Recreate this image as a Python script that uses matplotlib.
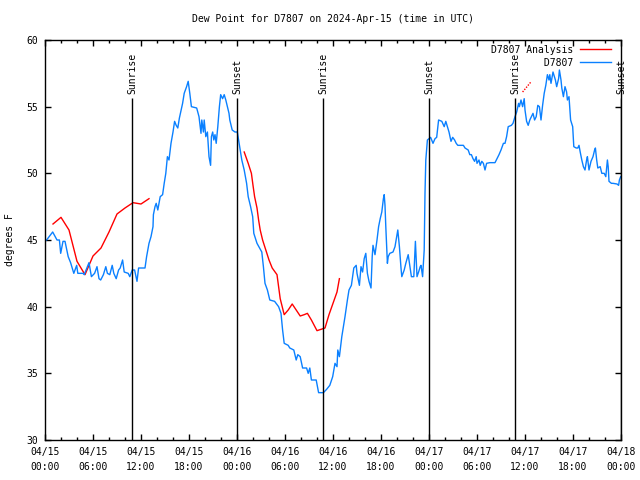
import numpy as np
import matplotlib
matplotlib.use("Agg")
import matplotlib.pyplot as plt
from matplotlib.ticker import MultipleLocator

plt.rcParams['font.family'] = 'DejaVu Sans Mono'
plt.rcParams['font.size'] = 7

# hours since 2024-04-15 00:00 UTC
obs_hours = [0.2, 0.96, 1.5, 1.8, 1.96, 2.25, 2.5, 2.9, 3.2, 3.6, 3.96, 4.1, 4.75, 4.9, 5.5, 5.8,
             6.2, 6.5, 6.75, 6.96, 7.3, 7.6, 7.8, 8.1, 8.4, 8.6, 8.9, 9.2, 9.4, 9.7, 9.9, 10.4,
             10.6, 10.9, 11.2, 11.5, 11.7, 12.5, 12.7, 13.0, 13.25, 13.5, 13.55, 13.75, 13.9, 14.1,
             14.4, 14.7, 14.9, 15.1, 15.3, 15.5, 15.75, 16.0, 16.2, 16.4, 16.6, 16.8, 17.2, 17.4,
             17.7, 17.9, 18.1, 18.3, 18.96, 19.25, 19.5, 19.6, 19.8, 19.9, 20.1, 20.3, 20.5, 20.7,
             20.8, 20.96, 21.1, 21.25, 21.4, 21.6, 21.8, 21.96, 22.2, 22.4, 22.6, 22.8, 23.0, 23.1,
             23.4, 23.75, 24.04, 24.2, 24.4, 24.6, 24.9, 25.2, 25.4, 25.7, 25.96, 26.1, 26.5, 27.1,
             27.3, 27.5, 27.8, 28.1, 28.7, 29.2, 29.5, 29.7, 29.9, 30.4, 30.6, 31.1, 31.4, 31.6,
             31.9, 32.2, 32.7, 32.9, 33.1, 33.3, 33.9, 34.2, 34.8, 35.2, 35.6, 35.96, 36.25, 36.5,
             36.6, 36.8, 37.1, 37.5, 37.8, 38.0, 38.3, 38.6, 38.9, 39.0, 39.3, 39.5, 39.7, 39.9,
             40.1, 40.3, 40.5, 40.75, 40.9, 41.0, 41.25, 41.5, 41.7, 41.9, 42.1, 42.3, 42.4, 42.5,
             42.6, 42.8, 42.9, 43.1, 43.5, 43.75, 43.96, 44.1, 44.3, 44.5, 44.6, 44.9, 45.1, 45.4,
             45.6, 45.8, 46.1, 46.3, 46.5, 46.7, 46.9, 47.0, 47.2, 47.4, 47.5, 47.6, 47.8, 48.0,
             48.2, 48.5, 48.75, 48.96, 49.2, 49.6, 49.9, 50.1, 50.3, 50.5, 50.75, 50.96, 51.2, 51.4,
             51.6, 52.3, 52.5, 52.9, 53.1, 53.3, 53.5, 53.7, 53.9, 54.0, 54.25, 54.4, 54.6, 54.8,
             55.0, 55.2, 55.6, 56.25, 56.5, 56.75, 57.0, 57.3, 57.5, 57.7, 57.9, 58.3, 58.5, 58.75,
             58.96, 59.2, 59.3, 59.5, 59.7, 59.9, 60.0, 60.2, 60.4, 60.6, 60.8, 61.0, 61.2, 61.4,
             61.6, 61.8, 62.0, 62.2, 62.4, 62.6, 62.8, 63.0, 63.1, 63.25, 63.5, 63.6, 63.8, 63.96,
             64.2, 64.3, 64.5, 64.6, 64.8, 65.0, 65.2, 65.3, 65.5, 65.7, 65.96, 66.1, 66.4, 66.6,
             66.75, 66.9, 67.1, 67.3, 67.5, 67.7, 67.8, 68.0, 68.25, 68.5, 68.7, 68.8, 68.96, 69.1,
             69.4, 69.6, 69.9, 70.1, 70.3, 70.4, 70.5, 70.8, 71.0, 71.5, 71.7, 71.8, 71.96]
obs_dewpt = [45.0, 45.6, 45.0, 45.0, 44.0, 44.9, 44.9, 43.75, 43.3, 42.5, 43.1, 42.5, 42.5, 42.4, 43.3, 42.25,
             42.5, 43.0, 42.1, 42.0, 42.4, 43.0, 42.5, 42.4, 43.1, 42.5, 42.1, 42.75, 42.9, 43.5, 42.6, 42.5,
             42.25, 42.75, 42.75, 41.9, 42.9, 42.9, 43.75, 44.75, 45.25, 46.0, 46.9, 47.5, 47.75, 47.25,
             48.25, 48.4, 49.25, 50.0, 51.25, 51.0, 52.25, 53.1, 53.9, 53.6, 53.4, 54.15, 55.25, 56.0,
             56.5, 56.9, 56.0, 55.0, 54.9, 54.25, 53.0, 54.0, 53.1, 54.0, 52.75, 53.1, 51.25, 50.6,
             52.75, 53.1, 52.5, 52.9, 52.25, 53.5, 55.0, 55.9, 55.6, 55.9, 55.5, 55.0, 54.5, 54.0,
             53.25, 53.1, 53.1, 52.5, 51.75, 51.0, 50.25, 49.25, 48.25, 47.5, 46.75, 45.5, 44.75, 44.1,
             43.0, 41.75, 41.25, 40.5, 40.4, 40.0, 39.5, 38.25, 37.25, 37.1, 36.9, 36.75, 36.0, 36.4,
             36.25, 35.4, 35.4, 35.0, 35.4, 34.5, 34.5, 33.55, 33.55, 33.8, 34.1, 34.75, 35.75, 35.5,
             36.75, 36.25, 37.75, 39.25, 40.5, 41.25, 41.6, 42.9, 43.1, 42.5, 41.6, 43.0, 42.6, 43.6,
             44.0, 42.5, 41.9, 41.4, 43.75, 44.6, 43.9, 45.0, 46.0, 46.6, 47.1, 48.1, 48.4, 47.6,
             46.0, 43.25, 43.75, 44.0, 44.1, 44.5, 45.25, 45.75, 44.5, 42.9, 42.25, 42.75, 43.25, 43.9,
             43.1, 42.25, 42.25, 44.9, 42.25, 42.6, 43.0, 43.1, 42.25, 44.25, 48.5, 51.0, 52.5, 52.6,
             52.7, 52.25, 52.6, 52.7, 54.0, 53.9, 53.5, 53.9, 53.5, 53.1, 52.4, 52.7, 52.5, 52.25,
             52.1, 52.1, 51.9, 51.75, 51.4, 51.4, 51.1, 50.9, 51.25, 50.75, 51.0, 50.6, 50.9, 50.75,
             50.25, 50.75, 50.8, 50.8, 51.1, 51.4, 51.75, 52.25, 52.25, 52.75, 53.5, 53.6, 53.75, 54.25,
             54.6, 55.25, 55.0, 55.5, 55.0, 55.6, 54.75, 53.9, 53.6, 54.0, 54.25, 54.5, 54.0, 54.25,
             55.1, 55.0, 54.0, 55.1, 56.0, 56.6, 57.4, 57.0, 57.4, 56.75, 57.6, 57.4, 57.0, 56.5,
             57.1, 57.75, 57.0, 56.4, 55.75, 56.5, 56.1, 55.5, 55.75, 54.0, 53.5, 52.0, 51.9, 51.9,
             52.1, 51.6, 51.0, 50.5, 50.25, 51.0, 51.25, 50.25, 50.9, 51.25, 51.75, 51.9, 51.0, 50.4,
             50.5, 50.0, 50.0, 49.75, 51.0, 50.5, 49.4, 49.25, 49.25, 49.2, 49.1, 49.5, 49.75]

# analysis (three separate pieces)
ana1_hours = [1, 2, 3, 4, 5, 6, 7, 8, 9, 10, 11, 12, 13]
ana1_dewpt = [46.2, 46.7, 45.75, 43.4, 42.4, 43.8, 44.4, 45.6, 46.95, 47.4, 47.8, 47.7, 48.1]
ana2_hours = [24.9, 25.4, 25.8, 26.0, 26.2, 26.5, 26.7, 26.9, 27.2, 27.6, 28.0, 28.4, 29.0, 29.4,
              29.9, 30.4, 30.9, 31.4, 31.9, 32.4, 32.8, 33.3, 34.0, 34.5, 35.0, 35.5, 36.0, 36.5, 36.8]
ana2_dewpt = [51.6, 50.75, 50.0, 49.1, 48.25, 47.4, 46.5, 45.75, 45.0, 44.25, 43.5, 42.9, 42.4, 40.6,
              39.4, 39.75, 40.2, 39.75, 39.3, 39.4, 39.5, 39.0, 38.2, 38.3, 38.4, 39.4, 40.25, 41.1, 42.1]
ana3_hours = [59.7, 60.8]
ana3_dewpt = [56.1, 56.9]

sun_hours = [10.9, 24.0, 34.8, 48.0, 58.8, 72.0]
sun_labels = ['Sunrise', 'Sunset', 'Sunrise', 'Sunset', 'Sunrise', 'Sunset']

tick_hours = list(range(0, 73, 6))
tick_labels = ['04/15\n00:00', '04/15\n06:00', '04/15\n12:00', '04/15\n18:00',
               '04/16\n00:00', '04/16\n06:00', '04/16\n12:00', '04/16\n18:00',
               '04/17\n00:00', '04/17\n06:00', '04/17\n12:00', '04/17\n18:00',
               '04/18\n00:00']

fig = plt.figure(figsize=(6.4, 4.8), dpi=100)
ax = fig.add_axes([45/640, 40/480, 576/640, 400/480])

red = '#ff0000'
blue = '#0a80ff'

ax.plot(ana1_hours, ana1_dewpt, color=red, lw=1, label='D7807 Analysis')
ax.plot(ana2_hours, ana2_dewpt, color=red, lw=1)
ax.plot(ana3_hours, ana3_dewpt, color=red, lw=1, ls=(0, (1, 1)))
ax.plot(obs_hours, obs_dewpt, color=blue, lw=1, label='         D7807')

for h, lab in zip(sun_hours, sun_labels):
    ax.vlines(h, 30, 55.65, color='black', lw=1)
    ax.text(h, 55.95, lab, rotation=90, ha='center', va='bottom', clip_on=False)

ax.set_xlim(0, 72)
ax.set_ylim(30, 60)
ax.set_xticks(tick_hours)
ax.set_xticklabels(tick_labels, linespacing=1.6)
ax.xaxis.set_minor_locator(MultipleLocator(2))
ax.yaxis.set_major_locator(MultipleLocator(5))
ax.tick_params(which='both', direction='in', top=True, right=True, width=1)
ax.tick_params(which='major', length=4, pad=5)
ax.tick_params(which='minor', length=2.5)

for sp in ax.spines.values():
    sp.set_linewidth(1)

ax.set_title('Dew Point for D7807 on 2024-Apr-15 (time in UTC)', fontsize=7, pad=13)
ax.set_ylabel('degrees F')
ax.yaxis.set_label_coords(-0.052, 0.5)

ax.legend(loc='upper right', bbox_to_anchor=(0.982, 0.988), frameon=False,
          markerfirst=False, handlelength=3.2, handletextpad=0.6,
          labelspacing=0.3, borderaxespad=0, borderpad=0)

fig.savefig('out.png', dpi=100)
